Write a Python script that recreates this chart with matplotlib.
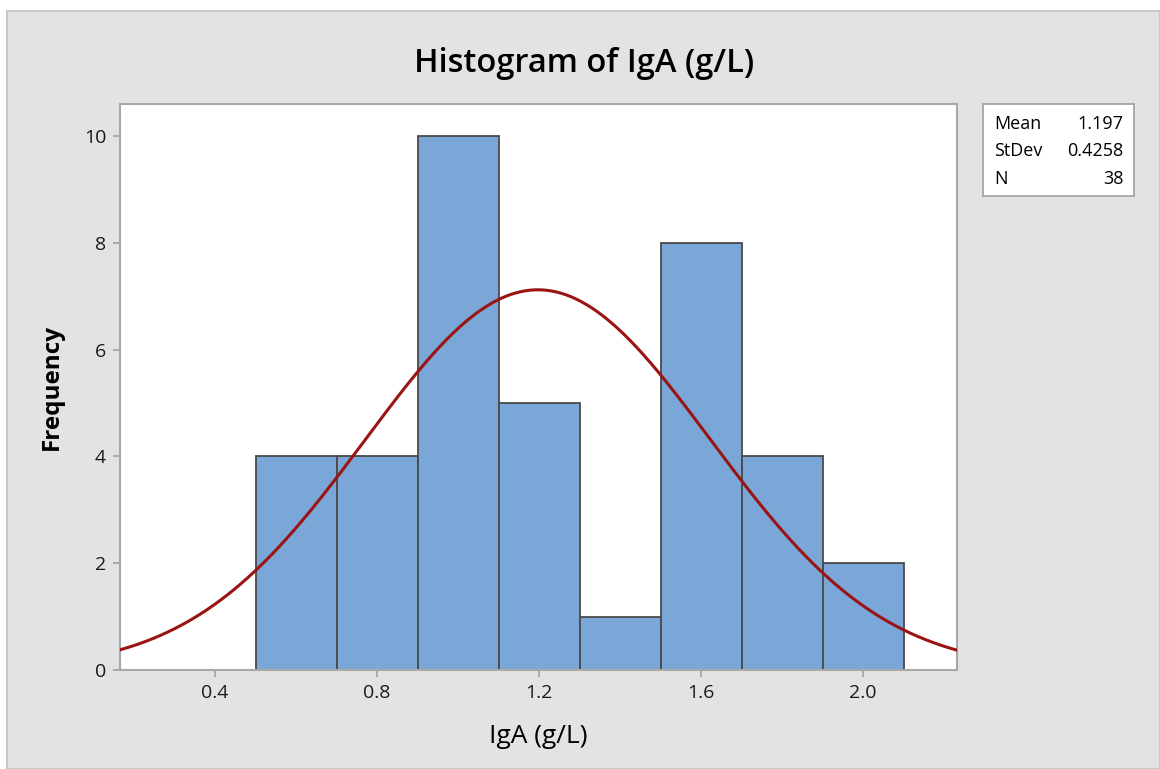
import numpy as np
import matplotlib.pyplot as plt
from matplotlib.patches import Rectangle

plt.rcParams['font.family'] = ['Open Sans', 'DejaVu Sans']

# histogram data
bin_edges = [0.5, 0.7, 0.9, 1.1, 1.3, 1.5, 1.7, 1.9, 2.1]
counts = [4, 4, 10, 5, 1, 8, 4, 2]
mean = 1.197
stdev = 0.4258
n = 38
xticks = [0.4, 0.8, 1.2, 1.6, 2.0]
yticks = [0, 2, 4, 6, 8, 10]

W, H = 1160, 769
fig = plt.figure(figsize=(W / 100, H / 100), dpi=100)
fig.patch.set_facecolor("white")

# gray panel behind everything
fig.patches.append(Rectangle((7 / W, 0), 1 - 7 / W, 1 - 11 / H, transform=fig.transFigure,
                             facecolor="#e3e3e3", edgecolor="#c8c8c8", linewidth=1.5, zorder=-10))

ax = fig.add_axes([120 / W, 1 - 670 / H, (957 - 120) / W, (670 - 104) / H])
ax.set_facecolor("white")

widths = np.diff(bin_edges)
ax.bar(bin_edges[:-1], counts, width=widths, align="edge",
       color="#7ba6d8", edgecolor="#4a4a4a", linewidth=1.3, zorder=2)

x = np.linspace(0.165, 2.232, 500)
bw = bin_edges[1] - bin_edges[0]
y = n * bw * np.exp(-0.5 * ((x - mean) / stdev) ** 2) / (stdev * np.sqrt(2 * np.pi))
ax.plot(x, y, color="#9a1414", linewidth=2.2, zorder=3)

ax.set_xlim(0.165, 2.232)
ax.set_ylim(0, 10.6)
ax.set_xticks(xticks)
ax.set_xticklabels([f"{t:.1f}" for t in xticks])
ax.set_yticks(yticks)
ax.tick_params(axis="both", labelsize=14, labelcolor="#1a1a1a", color="#a0a0a0",
               length=5, width=1.2, pad=5)
for s in ax.spines.values():
    s.set_color("#a8a8a8")
    s.set_linewidth(1.5)

ax.set_xlabel("IgA (g/L)", fontsize=19, labelpad=16)
ax.set_ylabel("Frequency", fontsize=17.5, fontweight="bold", labelpad=14)

fig.text(584 / W, 1 - 63 / H, "Histogram of IgA (g/L)", fontsize=23.5,
         fontweight="semibold", ha="center", va="center")

# stats box
bx = fig.add_axes([983 / W, 1 - 196 / H, (1134 - 983) / W, (196 - 104) / H])
bx.set_xticks([])
bx.set_yticks([])
for s in bx.spines.values():
    s.set_color("#a0a0a0")
    s.set_linewidth(1.2)
rows = [("Mean", f"{mean}"), ("StDev", f"{stdev}"), ("N", f"{n}")]
for i, (k, v) in enumerate(rows):
    yy = 0.78 - i * 0.295
    bx.text(0.075, yy, k, fontsize=13, va="center", ha="left", transform=bx.transAxes)
    bx.text(0.93, yy, v, fontsize=13, va="center", ha="right", transform=bx.transAxes)

fig.savefig("out.png", dpi=100)
